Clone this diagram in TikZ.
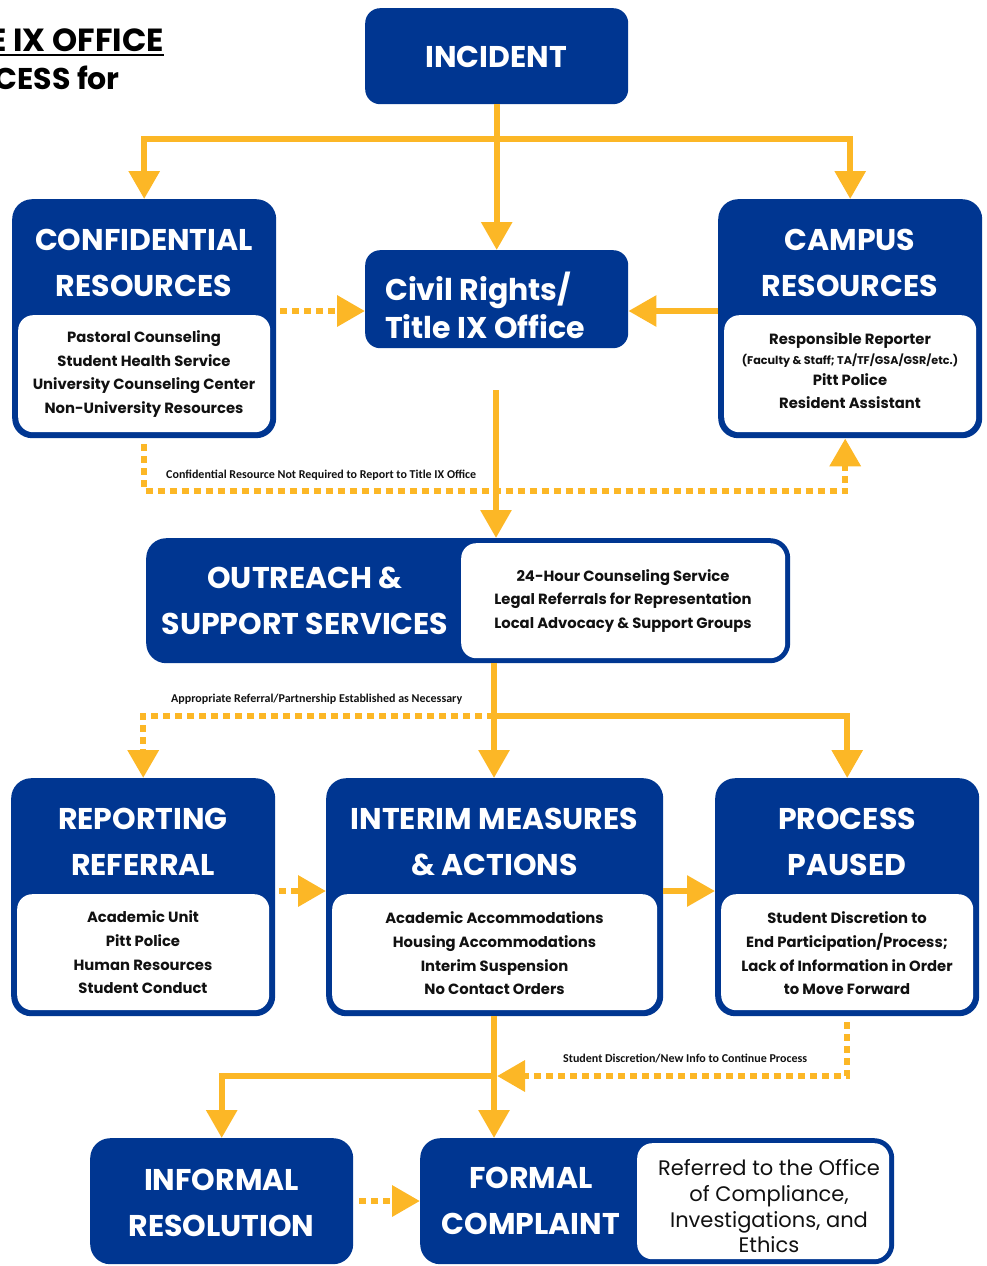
\documentclass[tikz,border=0pt]{standalone}
\usepackage{fontspec}
\setmainfont{Poppins}
\newfontfamily\calib{Carlito}
\usetikzlibrary{arrows.meta}
\definecolor{tblue}{RGB}{0,54,145}
\definecolor{tyel}{RGB}{252,183,38}
\definecolor{tink}{RGB}{17,17,17}
\newcommand\ttlf{\bfseries\fontsize{30}{46}\selectfont}
\newcommand\bodyf{\bfseries\fontsize{14.8}{23.6}\selectfont}
\newcommand\smallf{\bfseries\fontsize{11.2}{20}\selectfont}
\newcommand\labf{\calib\bfseries\fontsize{12}{14}\selectfont}
\tikzset{
  outer/.style={fill=tblue, rounded corners=20pt, inner sep=0pt, anchor=north west},
  innerw/.style={fill=white, rounded corners=15pt, inner sep=0pt, anchor=north west},
  ttl/.style={text=white, font=\ttlf, align=center, inner sep=0pt},
  body/.style={text=tink, font=\bodyf, align=center, inner sep=0pt},
  lab/.style={text=tink, font=\labf, inner sep=0pt},
  conn/.style={draw=tyel, line width=6pt},
  dotc/.style={draw=tyel, line width=6.5pt, dash pattern=on 7pt off 5pt},
  tip/.style={-{Triangle[width=30pt,length=28pt]}}
}
\begin{document}
\begin{tikzpicture}[x=1pt,y=-1pt]
\useasboundingbox (0,0) rectangle (987,1266);
% title fragment
\node[text=black, font=\bfseries\fontsize{32}{38}\selectfont, anchor=base east, inner sep=0pt] (tt1) at (164,51) {E IX OFFICE};
\node[text=black, font=\bfseries\fontsize{30}{38}\selectfont, anchor=base east, inner sep=0pt] (tt2) at (120,89) {CESS for};
\draw[line width=2.5pt] (0,55) -- (164,55);

% boxes
\node[outer, rounded corners=15pt, minimum width=263pt, minimum height=96pt] (incident) at (365,8) {};
\node[ttl] (incidentt) at (496,57) {INCIDENT};

\node[outer, rounded corners=15pt, minimum width=263pt, minimum height=98pt] (civil) at (365,250) {};
\node[ttl, align=left, anchor=west, font=\bfseries\fontsize{30}{38}\selectfont] (civilt) at (385,305) {Civil Rights/\\Title IX Office};

\node[outer, minimum width=264pt, minimum height=239pt] (conf) at (12,199) {};
\node[innerw, minimum width=252pt, minimum height=117pt] (confin) at (18,315) {};
\node[ttl] (conft) at (144,263) {CONFIDENTIAL\\RESOURCES};
\node[body] (confb) at (144,374) {Pastoral Counseling\\Student Health Service\\University Counseling Center\\Non-University Resources};

\node[outer, minimum width=264pt, minimum height=239pt] (campus) at (718,199) {};
\node[innerw, minimum width=252pt, minimum height=117pt] (campin) at (724,315) {};
\node[ttl] (campt) at (850,263) {CAMPUS\\RESOURCES};
\node[body] (campb) at (850,371) {Responsible Reporter\\[-4pt]{\smallf (Faculty \& Staff; TA/TF/GSA/GSR/etc.)}\\[-3pt]Pitt Police\\Resident Assistant};

\node[outer, minimum width=644pt, minimum height=125pt] (outreach) at (146,538) {};
\node[innerw, minimum width=324pt, minimum height=115pt] (outin) at (461,543) {};
\node[ttl] (outt) at (305,600.5) {OUTREACH \&\\SUPPORT SERVICES};
\node[body] (outb) at (623,601) {24-Hour Counseling Service\\Legal Referrals for Representation\\Local Advocacy \& Support Groups};

\node[outer, minimum width=264pt, minimum height=238pt] (report) at (11,778) {};
\node[innerw, minimum width=252pt, minimum height=116pt] (repin) at (17,894) {};
\node[ttl] (rept) at (143,841.5) {REPORTING\\REFERRAL};
\node[body] (repb) at (143,952.5) {Academic Unit\\Pitt Police\\Human Resources\\Student Conduct};

\node[outer, minimum width=337pt, minimum height=238pt] (interim) at (326,778) {};
\node[innerw, minimum width=325pt, minimum height=116pt] (intin) at (332,894) {};
\node[ttl] (intt) at (494.5,842) {INTERIM MEASURES\\\& ACTIONS};
\node[body] (intb) at (494.5,953.5) {Academic Accommodations\\Housing Accommodations\\Interim Suspension\\No Contact Orders};

\node[outer, minimum width=264pt, minimum height=238pt] (paused) at (715,778) {};
\node[innerw, minimum width=252pt, minimum height=116pt] (pausin) at (721,894) {};
\node[ttl] (paust) at (847,842) {PROCESS\\PAUSED};
\node[body] (pausb) at (847,953.5) {Student Discretion to\\End Participation/Process;\\Lack of Information in Order\\to Move Forward};

\node[outer, minimum width=263pt, minimum height=126pt] (informal) at (90,1138) {};
\node[ttl] (inft) at (221.5,1202.5) {INFORMAL\\RESOLUTION};

\node[outer, minimum width=474pt, minimum height=126pt] (formal) at (420,1138) {};
\node[innerw, minimum width=252pt, minimum height=116pt] (formin) at (637,1143) {};
\node[ttl] (fort) at (531,1200.5) {FORMAL\\COMPLAINT};
\node[text=tink, font=\fontsize{21}{25.7}\selectfont, align=center, inner sep=0pt] (forb) at (769,1206.5) {Referred to the Office\\of Compliance,\\Investigations, and\\Ethics};

% labels
\node[lab, anchor=west] (lab1) at (166,475) {Confidential Resource Not Required to Report to Title IX Office};
\node[lab, anchor=west] (lab2) at (171,699) {Appropriate Referral/Partnership Established as Necessary};
\node[lab, anchor=west] (lab3) at (563,1059) {Student Discretion/New Info to Continue Process};

% coordinates
\coordinate (j1) at (496,139);
\coordinate (r1) at (0,311);
\coordinate (d1) at (0,491);
\coordinate (c1) at (496,390);
\coordinate (j2) at (494,716);
\coordinate (r2) at (0,891);
\coordinate (j3) at (494,1076);
\coordinate (r3) at (0,1201);
\coordinate (cs) at ([xshift=-5pt]campus.south);

% connectors
\draw[conn, tip] (incident.south) -- (civil.north);
\draw[conn, tip] (j1) -| (conf.north);
\draw[conn, tip] (j1) -| (campus.north);
\draw[dotc, tip] ([xshift=4pt]conf.east |- r1) -- (civil.west |- r1);
\draw[conn, tip] (campus.west |- r1) -- (civil.east |- r1);
\draw[dotc, tip] ([yshift=-6pt]conf.south) |- (d1 -| cs) -- (cs);
\draw[conn, tip] (c1) -- (c1 |- outreach.north);
\draw[conn] (outreach.south -| j2) -- (j2);
\draw[conn, tip] (j2) -- (j2 |- interim.north);
\draw[conn, tip] (j2) -| (paused.north);
\draw[dotc, tip] (j2) -| (report.north);
\draw[dotc, tip] ([xshift=4pt]report.east |- r2) -- (interim.west |- r2);
\draw[conn, tip] (interim.east |- r2) -- (paused.west |- r2);
\draw[conn, tip] (interim.south -| j3) -- (j3 |- formal.north);
\draw[conn, tip] (j3) -| (informal.north);
\draw[dotc, tip] ([yshift=-6pt]paused.south) |- ([xshift=3pt]j3);
\draw[dotc, tip] ([xshift=6pt]informal.east |- r3) -- (formal.west |- r3);
\end{tikzpicture}
\end{document}
